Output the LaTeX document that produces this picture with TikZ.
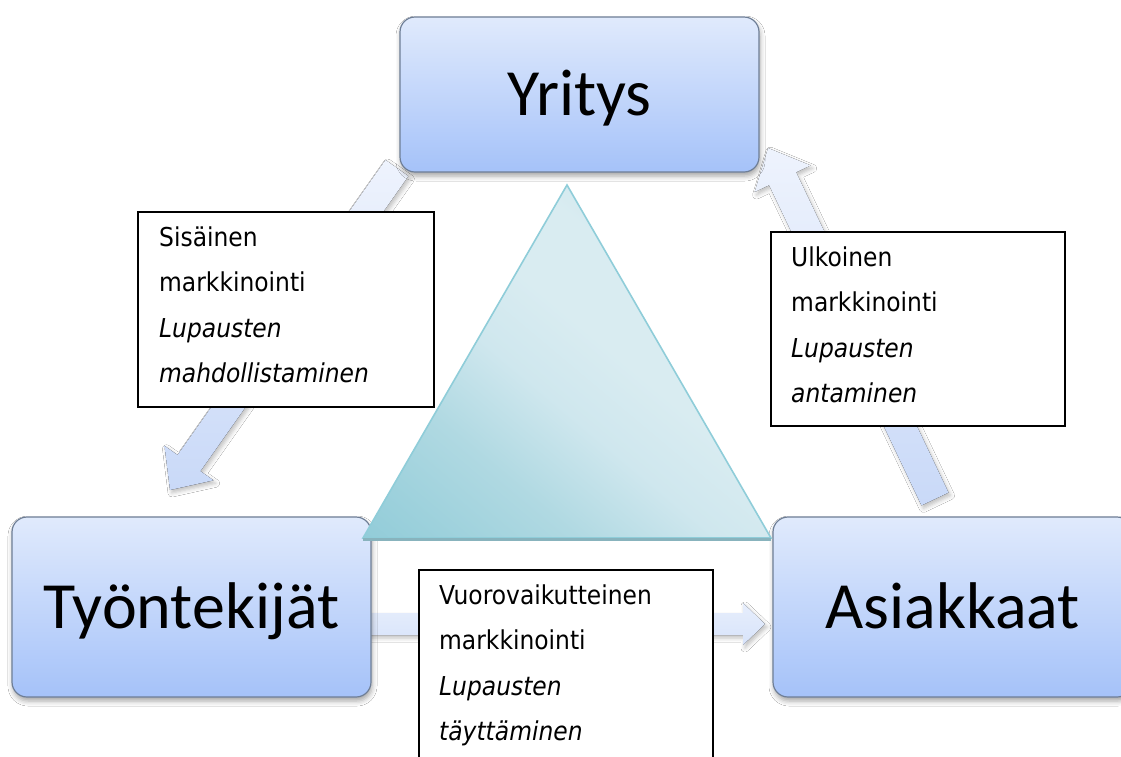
\documentclass[tikz,border=0pt]{standalone}
\usepackage{fontspec}
\setmainfont{Carlito}
\newfontfamily\notefont[FakeStretch=0.9]{DejaVu Sans}
\usetikzlibrary{calc,shadows.blur}
\definecolor{boxtop}{HTML}{E0EAFC}
\definecolor{boxbot}{HTML}{A5C2F9}
\definecolor{boxedge}{HTML}{6E7E96}
\definecolor{arrlight}{HTML}{EEF3FD}
\definecolor{arrdark}{HTML}{C9D9F8}
\definecolor{tridark}{HTML}{8ECAD7}
\definecolor{tridarkb}{HTML}{9DD1DC}
\definecolor{trimiddark}{HTML}{B0D9E2}
\definecolor{trimidb}{HTML}{CFE7EE}
\definecolor{trimid}{HTML}{D9ECF1}
\definecolor{trilight}{HTML}{C5E2E9}
\definecolor{trilightb}{HTML}{C0DFE7}
\definecolor{triedge}{HTML}{8FCDD9}
\definecolor{tribase}{HTML}{88B3BD}
\pgfdeclareverticalshading{trishade}{100bp}{color(0bp)=(tridark); color(12bp)=(tridark);
  color(22bp)=(tridarkb); color(33bp)=(trimiddark); color(45bp)=(trimidb); color(55bp)=(trimid);
  color(65bp)=(trimid); color(80bp)=(trilight); color(100bp)=(trilightb)}
\tikzset{
  entity/.style={draw=boxedge, line width=1.2pt, rounded corners=15pt,
    top color=boxtop, bottom color=boxbot, minimum width=359pt,
    font=\fontsize{66}{66}\selectfont, text height=42pt, text depth=0pt, inner sep=0pt,
    blur shadow={shadow xshift=1pt, shadow yshift=-4pt, shadow blur radius=5pt, shadow opacity=35}},
  notebox/.style={draw=black, line width=2pt, fill=white, inner sep=0pt, anchor=north west},
  notetext/.style={anchor=base west, inner sep=0pt},
  arrowshape/.style={draw=none,
    blur shadow={shadow xshift=2pt, shadow yshift=-3pt, shadow blur radius=4pt, shadow opacity=25}},
}
% block arrow: #1 tail, #2 tip, #3 shaft half width, #4 head half width, #5 head length, #6 style
\newcommand\blockarrow[6]{%
  \coordinate (#1-#2-h) at ($(#2)!#5!(#1)$);
  \fill[arrowshape,#6] ($(#1)!#3!90:(#2)$) -- ($(#1-#2-h)!#3!90:(#2)$) -- ($(#1-#2-h)!#4!90:(#2)$)
    -- (#2) -- ($(#1-#2-h)!#4!-90:(#2)$) -- ($(#1-#2-h)!#3!-90:(#2)$) -- ($(#1)!#3!-90:(#2)$) -- cycle;
}
\begin{document}
\begin{tikzpicture}[x=1pt,y=-1pt]
\useasboundingbox (0,0) rectangle (1121,756);
\clip (0,0) rectangle (1121,756);
\fill[white] (0,0) rectangle (1121,756);

% arrow end points
\coordinate (ltail) at (397,168);
\coordinate (ltip) at (170,490);
\coordinate (rtail) at (935,499);
\coordinate (rtip) at (768,148);
\coordinate (btail) at (360,624);
\coordinate (btip) at (765,624);

\blockarrow{ltail}{ltip}{14pt}{30pt}{33pt}{top color=arrlight, bottom color=arrdark}
\blockarrow{rtail}{rtip}{15pt}{31pt}{34pt}{top color=arrlight, bottom color=arrdark}
\blockarrow{btail}{btip}{11pt}{21pt}{22pt}{top color=arrlight!80!arrdark, bottom color=arrlight!40!arrdark}

% entities
\node[entity, minimum height=155pt] (yritys) at (579.5,94.5) {Yritys};
\node[entity, minimum height=180pt] (tyontekijat) at (191.5,607) {Työntekijät};
\node[entity, minimum height=180pt] (asiakkaat) at (952.5,607) {Asiakkaat};

% triangle
\coordinate (apex) at (567,185);
\coordinate (bl) at (363,538);
\coordinate (br) at (771,538);
\shade[shading=trishade, shading angle=-40]
  (apex) -- (bl) -- (br) -- cycle;
\draw[triedge, line width=1.6pt, line join=miter] (apex) -- (bl) -- (br) -- cycle;
\draw[tribase, line width=3pt] ($(bl)+(0,1.5)$) -- ($(br)+(0,1.5)$);

% note boxes
\node[notebox, minimum width=296pt, minimum height=195pt] (nleft) at (137,211) {};
\node[notebox, minimum width=294pt, minimum height=194pt] (nright) at (770,231) {};
\node[notebox, minimum width=294pt, minimum height=195pt] (nbottom) at (418,569) {};

\node[notetext] (tleft) at (159,246) {\parbox[t]{270pt}{\notefont\fontsize{26}{45.6}\selectfont
  Sisäinen\\markkinointi\\\textit{Lupausten}\\\textit{mahdollistaminen}}};
\node[notetext] (tright) at (791,266) {\parbox[t]{270pt}{\notefont\fontsize{26}{45.6}\selectfont
  Ulkoinen\\markkinointi\\\textit{Lupausten}\\\textit{antaminen}}};
\node[notetext] (tbottom) at (439,604) {\parbox[t]{270pt}{\notefont\fontsize{26}{45.6}\selectfont
  Vuorovaikutteinen\\markkinointi\\\textit{Lupausten}\\\textit{täyttäminen}}};
\end{tikzpicture}
\end{document}
